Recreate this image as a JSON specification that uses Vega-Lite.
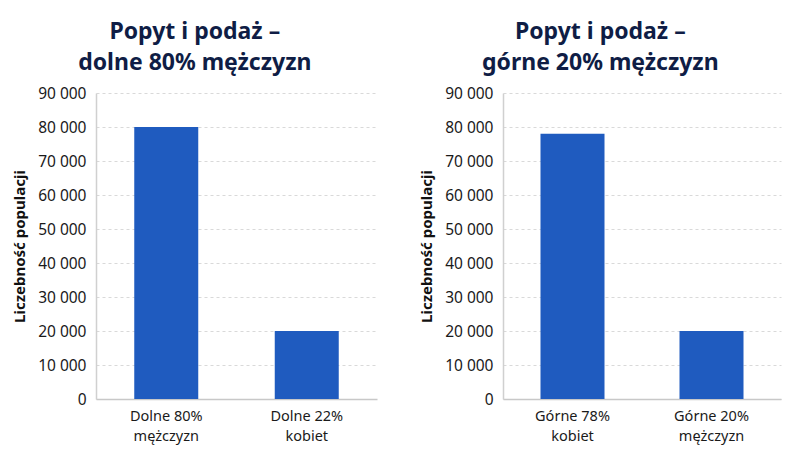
{
  "$schema": "https://vega.github.io/schema/vega-lite/v6.json",
  "background": "white",
  "padding": {"left": 12, "top": 21, "right": 18, "bottom": 5},
  "spacing": 42,
  "datasets": {
    "left": [
      {"grupa": "Dolne 80% mężczyzn", "liczebnosc": 80000},
      {"grupa": "Dolne 22% kobiet", "liczebnosc": 20000}
    ],
    "right": [
      {"grupa": "Górne 78% kobiet", "liczebnosc": 78000},
      {"grupa": "Górne 20% mężczyzn", "liczebnosc": 20000}
    ]
  },
  "config": {
    "font": "Noto Sans",
    "view": {"stroke": null},
    "title": {"fontSize": 23, "fontWeight": "bold", "color": "#0f1d45", "anchor": "middle", "frame": "bounds", "lineHeight": 31, "offset": 11, "font": "Noto Sans"},
    "axis": {"labelFont": "Noto Sans", "titleFont": "Noto Sans", "labelColor": "#1a1a1a", "titleColor": "#111111"},
    "bar": {"color": "#1f5bbf"}
  },
  "hconcat": [
    {
      "data": {"name": "left"},
      "title": {"text": ["Popyt i podaż –", "dolne 80% mężczyzn"]},
      "width": 281,
      "height": 306,
      "mark": {"type": "bar", "width": 64},
      "encoding": {
        "x": {
          "field": "grupa", "type": "nominal", "sort": null, "title": null,
          "axis": {"labelAngle": 0, "labelFontSize": 14.5, "labelLineHeight": 20, "labelPadding": 10, "ticks": false, "domainColor": "#c8c8c8", "domainWidth": 1.5,
            "labelExpr": "[slice(datum.label, 0, indexof(datum.label, '%') + 1), slice(datum.label, indexof(datum.label, '%') + 2)]"}
        },
        "y": {
          "field": "liczebnosc", "type": "quantitative", "title": "Liczebność populacji",
          "scale": {"domain": [0, 90000]},
          "axis": {"values": [0, 10000, 20000, 30000, 40000, 50000, 60000, 70000, 80000, 90000],
            "labelExpr": "replace(format(datum.value, ','), ',', ' ')",
            "labelFontSize": 15.5, "labelPadding": 10, "ticks": false, "domainColor": "#d0d0d0", "domainWidth": 1.5,
            "grid": true, "gridColor": "#d9d9d9", "gridDash": [3, 3], "gridWidth": 1,
            "titleFontSize": 15, "titleFontWeight": "bold", "titlePadding": 10}
        }
      }
    },
    {
      "data": {"name": "right"},
      "title": {"text": ["Popyt i podaż –", "górne 20% mężczyzn"]},
      "width": 278,
      "height": 306,
      "mark": {"type": "bar", "width": 64},
      "encoding": {
        "x": {
          "field": "grupa", "type": "nominal", "sort": null, "title": null,
          "axis": {"labelAngle": 0, "labelFontSize": 14.5, "labelLineHeight": 20, "labelPadding": 10, "ticks": false, "domainColor": "#c8c8c8", "domainWidth": 1.5,
            "labelExpr": "[slice(datum.label, 0, indexof(datum.label, '%') + 1), slice(datum.label, indexof(datum.label, '%') + 2)]"}
        },
        "y": {
          "field": "liczebnosc", "type": "quantitative", "title": "Liczebność populacji",
          "scale": {"domain": [0, 90000]},
          "axis": {"values": [0, 10000, 20000, 30000, 40000, 50000, 60000, 70000, 80000, 90000],
            "labelExpr": "replace(format(datum.value, ','), ',', ' ')",
            "labelFontSize": 15.5, "labelPadding": 10, "ticks": false, "domainColor": "#d0d0d0", "domainWidth": 1.5,
            "grid": true, "gridColor": "#d9d9d9", "gridDash": [3, 3], "gridWidth": 1,
            "titleFontSize": 15, "titleFontWeight": "bold", "titlePadding": 10}
        }
      }
    }
  ]
}
